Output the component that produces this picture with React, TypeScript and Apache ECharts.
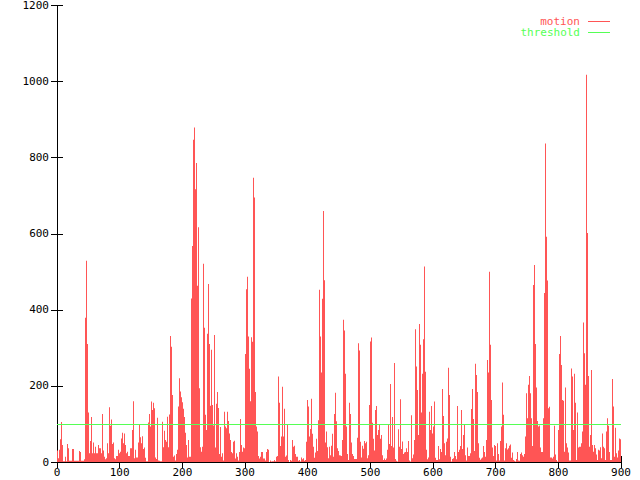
import React, { useEffect, useRef } from "react";
import * as echarts from "echarts";

// motion value per frame column (frames 0..900)
const motion: number[] = [
  30,10,32,60,105,45,2,2,14,2, 47,36,3,3,3,34,34,3,3,3, 3,3,29,26,3,3,3,7,379,529,
  310,130,23,55,118,23,51,23,40,23, 23,45,36,36,23,126,30,14,7,10, 49,23,144,95,112,47,51,10,7,16,
  16,32,23,27,62,77,49,75,45,23, 27,16,16,
  36,36,84,160,10,32,12,12,51,97, 65,49,68,34,38,11,2,2,104,126, 93,159,137,156,141,12,8,116,4,3,
  2,2,106,39,82,58,53,119,39,125, 331,303,176,14,17,4,21,32,146,220, 185,170,157,140,118,77,45,12,58,14,
  14,430,568,847,879,717,786,463,617,194, 39,27,40,
  521,353,124,84,337,468,310,148,295,150, 96,334,38,153,184,142,21,92,14,23, 4,132,93,89,132,108,75,58,26,23,
  53,56,9,23,14,4,26,113,45,27, 38,36,284,454,487,330,245,160,328,316, 747,695,184,93,80,16,9,14,26,26,
  9,9,4,26,34,32,0,4,1,
  2,2,5,2,14,16,225,156,42,67, 198,67,140,14,17,99,5,0,5,3, 58,40,43,21,14,14,3,5,1,12,
  7,10,3,5,53,163,146,67,87,166, 74,40,11,25,61,29,110,453,330,235, 429,660,478,51,80,39,10,40,18,43,
  74,14,126,182,107,36,29,18,17,16, 58,374,346,232,93,
  21,5,156,126,51,21,16,8,8,8, 64,312,293,53,12,43,35,55,49,53, 10,18,150,317,327,103,61,30,137,147,
  71,84,99,61,71,18,5,9,5,9, 32,99,47,205,42,118,38,260,8,3, 1,86,40,165,34,54,21,25,26,36,
  26,55,4,1,123,10,20,58,349,
  251,189,71,363,308,130,232,323,514,237, 32,7,12,132,84,147,75,93,159,11, 5,5,42,7,34,26,192,121,49,18,
  53,62,248,176,14,1,8,10,26,16, 7,147,26,32,42,137,34,71,99,18, 4,38,16,16,23,139,192,113,29,258,
  229,184,49,11,6,9,12,42,26,14, 58,268,235,500,308,
  163,38,16,45,42,4,49,21,4,55, 93,209,124,4,36,49,33,36,43,46, 11,25,5,3,1,8,26,4,3,21,
  25,18,14,21,67,181,115,203,226,181, 115,42,465,518,310,196,108,93,96,38, 26,26,115,444,837,592,477,141,145,12,
  12,9,14,95,20,5,1,84,
  284,331,255, 163,161,27,196,49,38,25,4,4,246, 225,84,232,156,5,130,38,40,40,49,
  80,367,286,203,1018,602,226,40,71,242, 45,27,45,36,20,5,32,30,39,10, 75,40,36,5,80,115,95,26,5,5,
  218,146,14,90,23,12,30,62,60,172,
];

const thresholdValue = 100;
const xRange = [0, 900];
const xInterval = 100;
const yRange = [0, 1200];
const yInterval = 200;
const seriesNames = ["motion", "threshold"];

const RED = "#ff5555";
const GREEN = "#55ff55";
const FONT = "'DejaVu Sans Mono', 'Liberation Mono', monospace";

export default function App() {
  const ref = useRef<HTMLDivElement>(null);
  useEffect(() => {
    document.body.style.margin = "0";
    const chart = echarts.init(ref.current!, null, { renderer: "svg" });
    const step = (xRange[1] - xRange[0]) / (motion.length - 1);
    const data = motion.map((v, i) => [xRange[0] + i * step, v]);

    const axisCommon = {
      axisLine: { show: true, lineStyle: { color: "#000", width: 1 } },
      axisTick: { show: true, inside: true, length: 6, lineStyle: { color: "#000", width: 1 } },
      splitLine: { show: false },
    };
    const plain = (v: number) => String(v);

    chart.setOption({
      animation: false,
      backgroundColor: "#ffffff",
      color: [RED, GREEN],
      textStyle: { fontFamily: FONT },
      grid: { left: 57, right: 19, top: 5, bottom: 18, containLabel: false },
      xAxis: [
        {
          type: "value", min: xRange[0], max: xRange[1], interval: xInterval, position: "bottom",
          ...axisCommon,
          axisLabel: { color: "#000", fontSize: 11, fontFamily: FONT, margin: 5, formatter: plain },
        },
        {
          type: "value", min: xRange[0], max: xRange[1], interval: xInterval, position: "top",
          ...axisCommon,
          axisLabel: { show: false },
        },
      ],
      yAxis: [
        {
          type: "value", min: yRange[0], max: yRange[1], interval: yInterval, position: "left",
          ...axisCommon,
          axisLabel: { color: "#000", fontSize: 11, fontFamily: FONT, margin: 8, formatter: plain },
        },
        {
          type: "value", min: yRange[0], max: yRange[1], interval: yInterval, position: "right",
          ...axisCommon,
          axisLabel: { show: false },
        },
      ],
      series: [
        {
          type: "custom",
          name: seriesNames[0],
          xAxisIndex: 0,
          yAxisIndex: 0,
          clip: true,
          data,
          encode: { x: 0, y: 1 },
          renderItem: (params: any, api: any) => {
            const x = api.value(0);
            const y = api.value(1);
            const base = api.coord([x, 0]);
            const top = api.coord([x, y]);
            return {
              type: "rect",
              shape: { x: Math.round(base[0]), y: top[1], width: 1, height: base[1] - top[1] },
              style: { fill: RED },
            };
          },
        },
        {
          type: "custom",
          name: seriesNames[1],
          xAxisIndex: 0,
          yAxisIndex: 0,
          data: [[xRange[0], thresholdValue], [xRange[1], thresholdValue]],
          encode: { x: 0, y: 1 },
          renderItem: (params: any, api: any) => {
            if (params.dataIndex !== 0) return null;
            const a = api.coord([xRange[0], thresholdValue]);
            const b = api.coord([xRange[1], thresholdValue]);
            const yy = Math.round(a[1]) + 0.5;
            return {
              type: "line",
              shape: { x1: a[0], y1: yy, x2: b[0], y2: yy },
              style: { stroke: GREEN, lineWidth: 1, fill: null },
            };
          },
        },
      ],
      graphic: [
        {
          type: "text", x: 580, y: 21,
          style: { text: seriesNames[0], fill: RED, font: `11px ${FONT}`, lineHeight: 10, textAlign: "right", textVerticalAlign: "middle" },
        },
        { type: "line", shape: { x1: 588, y1: 21.5, x2: 610, y2: 21.5 }, style: { stroke: RED, lineWidth: 1 } },
        {
          type: "text", x: 580, y: 32.5,
          style: { text: seriesNames[1], fill: GREEN, font: `11px ${FONT}`, lineHeight: 10, textAlign: "right", textVerticalAlign: "middle" },
        },
        { type: "line", shape: { x1: 588, y1: 32.5, x2: 610, y2: 32.5 }, style: { stroke: GREEN, lineWidth: 1 } },
      ],
    });
    return () => chart.dispose();
  }, []);
  return <div ref={ref} style={{ position: "fixed", left: 0, top: 0, width: 640, height: 480 }} />;
}
